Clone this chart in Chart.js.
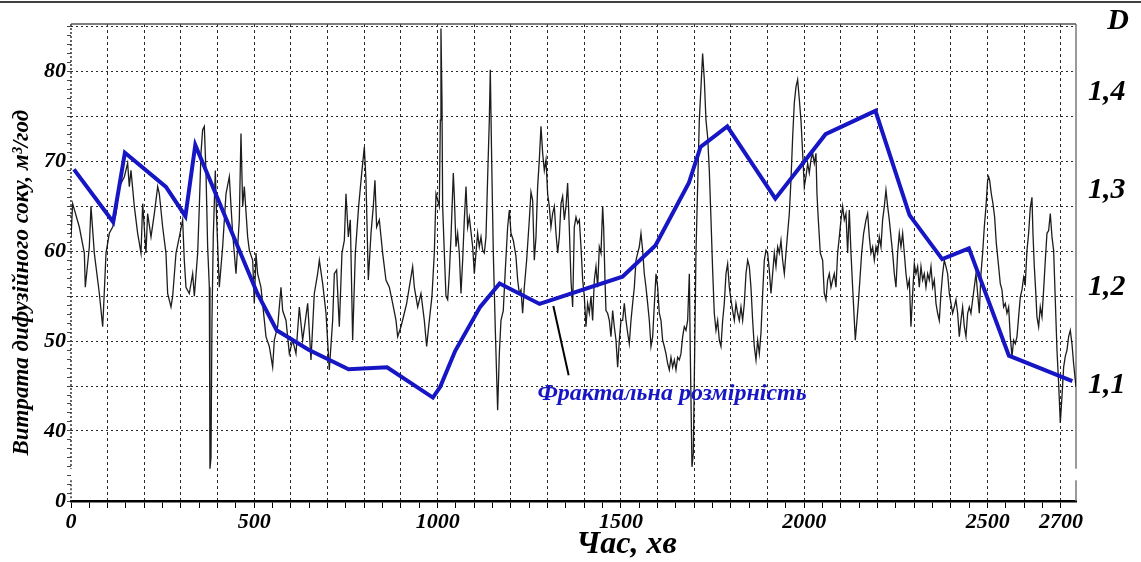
<!DOCTYPE html>
<html>
<head>
<meta charset="utf-8">
<style>
html,body{margin:0;padding:0;background:#fff;}
#wrap{width:1141px;height:562px;position:relative;}
</style>
<script src="https://cdn.jsdelivr.net/npm/chart.js@4/dist/chart.umd.min.js"></script>
</head>
<body>
<div id="wrap"><canvas id="c" width="1141" height="562"></canvas></div>
<script>
// ---------- DATA ----------
// Time axis (minutes)
const timeMin = 0;
const timeMax = 2741;
const timeGridStep = 100;
const timeMinorStep = 50;
const timeTickLabels = [0, 500, 1000, 1500, 2000, 2500, 2700];

// Left axis: flow of diffusion juice, m3/h (axis broken below 40, bottom labelled "0")
const flowAxisBottom = 32.2;
const flowAxisTop = 85.3;
const flowTickLabels = [40, 50, 60, 70, 80];
const flowGridLevels = [40, 45, 50, 55, 60, 65, 70, 75, 80, 85];
const flowBreak = [34.5, 35.8];

// Right axis: fractal dimension D
const dimAxisBottom = 0.981;
const dimAxisTop = 1.470;
const dimTicks = [1.1, 1.2, 1.3, 1.4];

// Flow series [minute, m3/h]
const flowSeries = [
[0,61.6],[4.5,65.3],[22.7,62.7],[36.4,59.8],[39,56],[50,60.5],[54.5,65],[63.6,59.8],[72.7,56.8],[77.3,55.3],
[86.4,51.6],[89,53.8],[95.5,59.8],[104.5,62],[113.6,62.7],[122.7,64.2],[131.8,67.2],[145.5,68.3],[154.5,69.8],[159,67.2],
[163.6,69],[172.7,65],[181.8,62],[190.9,59.8],[195.5,65.3],[204.5,59.8],[209,64.2],[218.2,61.6],[227.3,64.2],[236.4,67.2],
[240.9,66.4],[250,62.7],[259,59.8],[263.6,55.3],[272.7,53.8],[277.3,55],[286.4,59.8],[295.5,61.6],[304.5,63.5],[309,59],
[313.6,56],[322.7,55.3],[331.8,57.5],[336.4,55],[345.5,59.8],[350,65],[354.5,70.9],[359,73.5],[363.6,73.9],[368.2,68.7],
[372.7,60.5],[377.3,56],[379,35.8],[381.8,37],[384.5,52.3],[388,61.6],[393.6,69],[397.3,63.5],[404.5,56],[413.6,60.5],
[422.7,66.4],[431.8,68.3],[436.4,65],[440.9,62],[450,57.5],[459,63.5],[463.6,73.1],[468.2,65],[472.7,67.2],[481.8,61.6],
[486.4,60.1],[495.5,59],[500,54.2],
[504.5,59.8],[509,57.5],[518,56],[527.3,52.3],[531.8,50.5],[540.9,49.4],[550,47.1],[554.5,50.1],[563.6,51.6],[572.7,56],
[577.3,53.4],[586.4,52.3],[595.5,48.6],[604.5,50.1],[613.6,48.6],[622.7,53.8],[631.8,50.1],[645.5,54.2],[654.5,47.9],[663.6,55.3],
[672.7,57.5],[677.3,59],[686.4,56.4],[695.5,53.1],[704.5,46.8],[713.6,52.3],[718.2,57.5],[724.5,57.9],[731.8,51.6],[739,59.8],
[745.5,61.2],[750,66.4],[756.4,61.6],[761.8,63.5],[768.2,50.1],[775.5,59.8],[784.5,65],[793.6,69],[800,71.6],[804.5,67.9],
[810.9,56.8],[818.2,62],[824.5,65],[829,67.9],[833.6,62.7],[840.9,63.5],[850,59.8],[859,56.8],[868.2,56],[877.3,54.2],
[886.4,52.3],[890.9,50.5],[900,51.6],[909,53.1],[915.5,54.2],[922.7,56],[931.8,58.3],[936.4,56],[945.5,53.8],[954.5,55.3],
[963.6,52.3],[970,49.4],[977.3,52.3],[984.5,55],[990.9,59.8],[995.5,66.4],[1000,65.7],[1004.5,65],[1007.3,74.6],[1009,84.8],[1011.8,76.9],
[1013.6,65],[1018.2,59.8],[1022.7,55],[1027.3,54.6],[1031.8,57.5],[1036.4,61.6],[1042.7,68.7],[1045.5,66.1],[1050,60.5],[1054.5,62],
[1059,59.8],[1063.6,55.3],[1068.2,59],[1072.7,63.5],[1077.3,67.2],[1081.8,62.7],[1086.4,63.8],[1095.5,60.5],[1100,57.5],[1104.5,59.8],
[1109,62],[1113.6,60.5],[1118.2,61.6],[1122.7,60.1],[1127.3,59.8],[1131.8,61.6],[1136.4,68.3],[1140.9,74.6],[1143.6,80.2],[1147.3,70.2],
[1151.8,59.8],[1157.3,51.2],[1163.6,42.3],[1168.2,48.6],[1172.7,52.3],[1179,53.4],[1184.5,57.9],[1190.9,62.7],[1195.5,64.6],[1200,62],
[1206.4,61.2],[1213.6,59.4],[1218.2,56.8],[1222.7,55.3],[1227.3,55.7],[1231.8,53.1],[1236.4,56],[1242.7,59],[1250,63.5],[1254.5,66.6],
[1259,65.7],[1263.6,59],[1268.2,61.6],[1272.7,67.2],[1277.3,70.2],[1281.8,73.9],[1286.4,70.9],[1290.9,69],[1295.5,70.2],[1300,66.4],
[1304.5,65],[1309,62.7],[1313.6,64.2],[1318.2,65],[1322.7,62],[1327.3,59.8],[1331.8,61.6],[1336.4,65.3],[1340.9,66.1],[1345.5,63.5],
[1350,65],[1354.5,67.6],[1359,62.7],[1363.6,56.8],[1368.2,53.8],[1372.7,62.7],[1377.3,63.8],[1381.8,63.1],[1386.4,63.5],[1390.9,60.5],
[1395.5,56.8],[1400,55],[1404.5,51.6],[1409,54.2],[1413.6,53.1],[1418.2,55],[1422.7,52.3],[1427.3,56.8],[1431.8,58.3],[1436.4,56],
[1440.9,60.5],[1445.5,59.8],[1450,65],[1452.7,62.7],[1456.4,56.8],[1459,53.4],[1463.6,53.1],[1468.2,52.3],[1472.7,50.5],[1477.3,53.4],
[1481.8,51.6],[1486.4,50.1],[1490.9,47.1],[1495.5,50.1],[1500,52.3],
[1504.5,52.3],[1509.1,54.2],[1513.6,52.3],[1518.2,50.9],[1522.7,49.7],[1527.3,52.3],[1531.8,54.2],[1536.4,56],[1540.9,59],[1545.5,59.8],
[1550,60.5],[1554.5,62],[1559.1,60.1],[1563.6,57.5],[1568.2,56],[1572.7,54.2],[1577.3,52.3],[1581.8,49.4],[1586.4,50.5],[1595.5,57.5],
[1600,56],[1604.5,53.1],[1609.1,52.3],[1613.6,50.1],[1618.2,49.4],[1622.7,48.6],[1627.3,47.5],[1631.8,46.8],[1636.4,48.2],[1640.9,47.1],
[1645.5,47.9],[1650,46.8],[1654.5,48.2],[1659.1,47.9],[1663.6,48.6],[1668.2,50.5],[1672.7,51.6],[1677.3,51.2],[1681.8,52.3],[1686.4,57.5],
[1689.1,48.6],[1693.6,36],[1697.3,37.5],[1700.9,48.6],[1704.5,59.8],[1709.1,67.2],[1713.6,74.6],[1718.2,78.3],[1722.7,82],[1727.3,79.1],
[1731.8,74.6],[1736.4,72.7],[1740.9,69],[1745.5,63.5],[1750,57.9],[1754.5,53.1],[1759.1,51.2],[1763.6,52.3],[1768.2,50.1],[1772.7,49.4],
[1777.3,52.3],[1781.8,54.2],[1786.4,57.5],[1790.9,58.6],[1795.5,56],[1800,54.6],[1804.5,53.4],[1809.1,52.3],[1813.6,54.2],[1818.2,53.1],
[1822.7,52.3],[1827.3,53.8],[1831.8,52.3],[1836.4,54.2],[1840.9,57.5],[1845.5,59],[1850,58.3],[1854.5,56],[1859.1,52.3],[1863.6,49.4],
[1868.2,47.9],[1872.7,50.1],[1877.3,48.6],[1881.8,50.9],[1886.4,55.3],[1890.9,59],[1895.5,60.1],[1900,59.8],[1904.5,57.9],[1909.1,55.3],
[1913.6,57.5],[1918.2,59.8],[1922.7,58.3],[1927.3,60.5],[1931.8,59.8],[1936.4,61.2],[1940.9,59],[1945.5,57.5],[1950,59.8],[1954.5,62],
[1959.1,64.2],[1963.6,67.9],[1968.2,72.7],[1972.7,76.5],[1977.3,78.3],[1981.8,79.1],[1986.4,76.9],[1990.9,74.6],[1995.5,70.9],
[2000,67.2],[2004.5,68.3],[2009.1,69.8],[2013.6,68.7],[2018.2,70.2],[2022.7,70.9],[2027.3,69.8],[2031.8,70.9],[2034.5,66.4],[2038.2,63.5],
[2043.6,59.8],[2050,59],[2054.5,55.3],[2059.1,54.6],[2063.6,56.8],[2068.2,57.5],[2072.7,56],[2077.3,56.8],[2081.8,57.5],[2086.4,56],
[2090.9,59.8],[2095.5,61.6],[2100,63.5],[2104.5,65],[2109.1,63.5],[2113.6,64.2],[2118.2,59.8],[2122.7,64.6],[2127.3,59.8],[2131.8,56],
[2136.4,52.3],[2139.1,50.1],[2143.6,52.3],[2147.3,54.2],[2152.7,57.5],[2156.4,59.8],[2161.8,62],[2168.2,63.5],[2172.7,64.2],[2177.3,61.6],
[2181.8,59.8],[2186.4,60.5],[2190.9,59],[2195.5,60.5],[2200,59.8],[2204.5,61.6],[2209.1,60.5],[2213.6,63.5],[2218.2,65],[2222.7,66.8],
[2227.3,65],[2231.8,63.5],[2236.4,61.6],[2240.9,59.8],[2245.5,57.5],[2250,56],[2254.5,59.8],[2259.1,62],[2263.6,60.5],[2268.2,62],
[2272.7,59.8],[2277.3,57.5],[2281.8,56],[2286.4,56.8],[2290.9,51.6],[2295.5,55.3],[2300,58.6],[2304.5,57.5],[2309.1,58.3],[2313.6,56],
[2318.2,58.3],[2322.7,56.8],[2327.3,57.5],[2331.8,56],[2336.4,57.5],[2340.9,56.8],[2345.5,58.3],[2350,56],[2354.5,56.8],[2359.1,54.2],
[2363.6,53.1],[2368.2,52.3],[2372.7,55.3],[2377.3,57.5],[2381.8,59],[2386.4,58.3],[2390.9,57.5],[2395.5,55.3],[2400,54.2],[2404.5,53.1],
[2409.1,53.8],[2413.6,54.6],[2418.2,53.1],[2422.7,50.5],[2427.3,52.3],[2431.8,53.8],[2436.4,51.6],[2440.9,50.5],[2445.5,53.1],[2450,53.8],
[2454.5,53.1],[2459.1,54.6],[2463.6,56],[2468.2,57.5],[2472.7,55.3],[2477.3,53.1],[2481.8,57.5],[2486.4,59.8],[2490.9,62.7],[2495.5,65],[2500,67.9],
[2502.7,68.3],[2505.5,67.9],[2510,66.4],[2514.5,65.3],[2519.1,63.8],[2523.6,60.9],[2530,58.3],[2534.5,56.4],[2539.1,55.7],[2543.6,53.8],
[2548.2,54.2],[2552.7,53.1],[2557.3,53.8],[2561.8,50.5],[2566.4,48.3],[2570.9,50.1],[2575.5,49.7],[2580,50.5],[2584.5,52.7],[2589.1,54.9],
[2593.6,55.7],[2598.2,57.1],[2602.7,56.4],[2607.3,60.1],[2611.8,62],[2616.4,64.9],[2620.9,66],[2623.6,62],[2627.3,58.3],[2630.9,55.7],
[2634.5,52.7],[2639.1,51.6],[2643.6,53.8],[2648.2,52.7],[2652.7,55.7],[2657.3,59],[2661.8,62],[2666.4,62.3],[2670.9,64.2],[2675.5,61.6],
[2680,60.1],[2684.5,54.6],[2689.1,49],[2693.6,45.3],[2698.2,40.9],[2702.7,43.8],[2707.3,47.1],[2711.8,48.3],[2716.4,49],[2720.9,50.5],
[2725.5,51.2],[2730,49.7],[2734.5,47.5],[2740.9,44.9]
];

// Fractal dimension series [minute, D]
const dimSeries = [
[8,1.321],[115,1.267],[147,1.338],[259,1.303],[312,1.273],[339,1.346],[508,1.194],[561,1.156],[648,1.136],[757,1.116],
[862,1.118],[987,1.087],[1007,1.098],[1048,1.135],[1116,1.180],[1169,1.204],[1278,1.183],[1504,1.211],[1594,1.243],[1685,1.307],
[1717,1.344],[1790,1.365],[1921,1.291],[2058,1.357],[2194,1.381],[2287,1.274],[2376,1.229],[2449,1.240],[2558,1.130],[2731,1.104]
];

// Annotation: label of the blue curve and its pointer (minute, m3/h)
const dimLabelText = 'Фрактальна розмірність';
const dimLabelAnchor = [1272, 44.1];
const pointerLine = [[1315.5, 53.9], [1357.3, 46.2]];

const yTitle = 'Витрата дифузійного соку, м³/год';
const xTitle = 'Час, хв';
const dTitle = 'D';

// ---------- CHART ----------
const SERIF = '"Liberation Serif", "Times New Roman", serif';
const BLUE = '#1616c4';
Chart.defaults.font.family = SERIF;

const range = (a, b, s) => { const r = []; for (let v = a; v <= b + 1e-9; v += s) r.push(+v.toFixed(4)); return r; };
const noPad = s => { s.paddingTop = 0; s.paddingBottom = 0; };

const decor = {
  id: 'decor',
  beforeDatasetsDraw(chart) {
    const {ctx, chartArea: ca, scales} = chart;
    const y = scales.y;
    const gTop = y.getPixelForValue(flowBreak[1]);
    const gBot = y.getPixelForValue(flowBreak[0]);
    ctx.save();
    ctx.strokeStyle = '#333'; ctx.lineWidth = 1.5; ctx.setLineDash([2, 2]);
    ctx.beginPath();
    ctx.moveTo(ca.left, ca.top); ctx.lineTo(ca.left, gTop);
    ctx.moveTo(ca.left, gBot); ctx.lineTo(ca.left, ca.bottom);
    ctx.stroke();
    ctx.setLineDash([]);
    ctx.strokeStyle = '#7a7a7a'; ctx.lineWidth = 1.5;
    ctx.beginPath();
    ctx.moveTo(ca.right, ca.top); ctx.lineTo(ca.right, gTop);
    ctx.moveTo(ca.right, gBot); ctx.lineTo(ca.right, ca.bottom);
    ctx.stroke();
    ctx.strokeStyle = '#555'; ctx.lineWidth = 1.5;
    ctx.beginPath(); ctx.moveTo(ca.left, ca.top); ctx.lineTo(ca.right, ca.top); ctx.stroke();
    ctx.strokeStyle = '#000'; ctx.lineWidth = 1.5;
    ctx.beginPath(); ctx.moveTo(0, 2); ctx.lineTo(chart.width, 2); ctx.stroke();
    ctx.restore();
  },
  afterDraw(chart) {
    const {ctx, chartArea: ca, scales} = chart;
    const x = scales.x, y = scales.y;
    ctx.save();
    ctx.fillStyle = '#000';
    ctx.translate(22, y.getPixelForValue(56.5));
    ctx.rotate(-Math.PI / 2);
    ctx.font = 'italic bold 23px ' + SERIF;
    ctx.textAlign = 'center'; ctx.textBaseline = 'middle';
    ctx.fillText(yTitle, 0, 0);
    ctx.restore();

    ctx.save();
    ctx.fillStyle = '#000';
    ctx.textAlign = 'center'; ctx.textBaseline = 'middle';
    ctx.font = 'italic bold 32px ' + SERIF;
    ctx.fillText(xTitle, x.getPixelForValue(1515), ca.bottom + 44);
    ctx.font = 'italic bold 30px ' + SERIF;
    ctx.fillText(dTitle, ca.right + 42, 21);
    ctx.textAlign = 'left';
    ctx.fillStyle = BLUE;
    ctx.font = 'italic bold 24px ' + SERIF;
    ctx.fillText(dimLabelText, x.getPixelForValue(dimLabelAnchor[0]), y.getPixelForValue(dimLabelAnchor[1]));
    ctx.restore();
  }
};

new Chart(document.getElementById('c'), {
  type: 'line',
  data: {
    datasets: [
      {
        label: 'D',
        data: dimSeries.map(p => ({x: p[0], y: p[1]})),
        yAxisID: 'yD',
        borderColor: BLUE,
        borderWidth: 4,
        pointRadius: 0,
        tension: 0,
        order: 0
      },
      {
        label: 'pointer',
        data: pointerLine.map(p => ({x: p[0], y: p[1]})),
        yAxisID: 'y',
        borderColor: '#000',
        borderWidth: 2,
        pointRadius: 0,
        order: 1
      },
      {
        label: 'flow',
        data: flowSeries.map(p => ({x: p[0], y: p[1]})),
        yAxisID: 'y',
        borderColor: 'rgba(10,10,10,0.92)',
        borderWidth: 1.3,
        pointRadius: 0,
        tension: 0,
        order: 2
      }
    ]
  },
  options: {
    responsive: false,
    animation: false,
    devicePixelRatio: 1,
    layout: {padding: {top: 24, left: 0, right: 0, bottom: 0}},
    plugins: {legend: {display: false}, tooltip: {enabled: false}, title: {display: false}},
    scales: {
      x: {
        type: 'linear',
        position: 'bottom',
        min: timeMin,
        max: timeMax,
        afterBuildTicks: s => { s.ticks = range(0, 2700, timeMinorStep).map(v => ({value: v})); },
        afterFit: s => { s.height = 61; },
        ticks: {
          autoSkip: false,
          maxRotation: 0,
          padding: 1,
          color: '#000',
          font: {size: 22, style: 'italic', weight: 'bold', family: SERIF},
          callback: v => timeTickLabels.includes(v) ? String(v) : ''
        },
        grid: {
          drawOnChartArea: true,
          color: c => (c.tick && c.tick.value > 0 && c.tick.value % timeGridStep === 0) ? '#2a2a2a' : 'rgba(0,0,0,0)',
          lineWidth: 1,
          tickColor: '#000',
          tickLength: 7,
          tickWidth: 1
        },
        border: {display: true, color: '#000', width: 2.5, dash: [3, 3]}
      },
      y: {
        type: 'linear',
        position: 'left',
        min: flowAxisBottom,
        max: flowAxisTop,
        afterBuildTicks: s => { s.ticks = [flowAxisBottom].concat(range(33, 85, 1)).map(v => ({value: v})); },
        afterFit: s => { s.width = 71; noPad(s); },
        ticks: {
          autoSkip: false,
          padding: 1,
          color: '#000',
          font: {size: 22, style: 'italic', weight: 'bold', family: SERIF},
          callback: v => Math.abs(v - flowAxisBottom) < 1e-6 ? '0' : (flowTickLabels.includes(v) ? String(v) : '')
        },
        grid: {
          drawOnChartArea: true,
          color: c => (c.tick && flowGridLevels.includes(c.tick.value)) ? '#2a2a2a' : 'rgba(0,0,0,0)',
          lineWidth: 1,
          tickColor: '#444',
          tickLength: 4,
          tickWidth: 1
        },
        border: {display: false, dash: [2, 3]}
      },
      yD: {
        type: 'linear',
        position: 'right',
        min: dimAxisBottom,
        max: dimAxisTop,
        afterBuildTicks: s => { s.ticks = dimTicks.map(v => ({value: v})); },
        afterFit: s => { s.width = 65; noPad(s); },
        ticks: {
          autoSkip: false,
          padding: 12,
          color: '#000',
          font: {size: 30, style: 'italic', weight: 'bold', family: SERIF},
          callback: v => v.toFixed(1).replace('.', ',')
        },
        grid: {display: false, drawOnChartArea: false, drawTicks: false},
        border: {display: false}
      }
    }
  },
  plugins: [decor]
});
</script>
</body>
</html>
